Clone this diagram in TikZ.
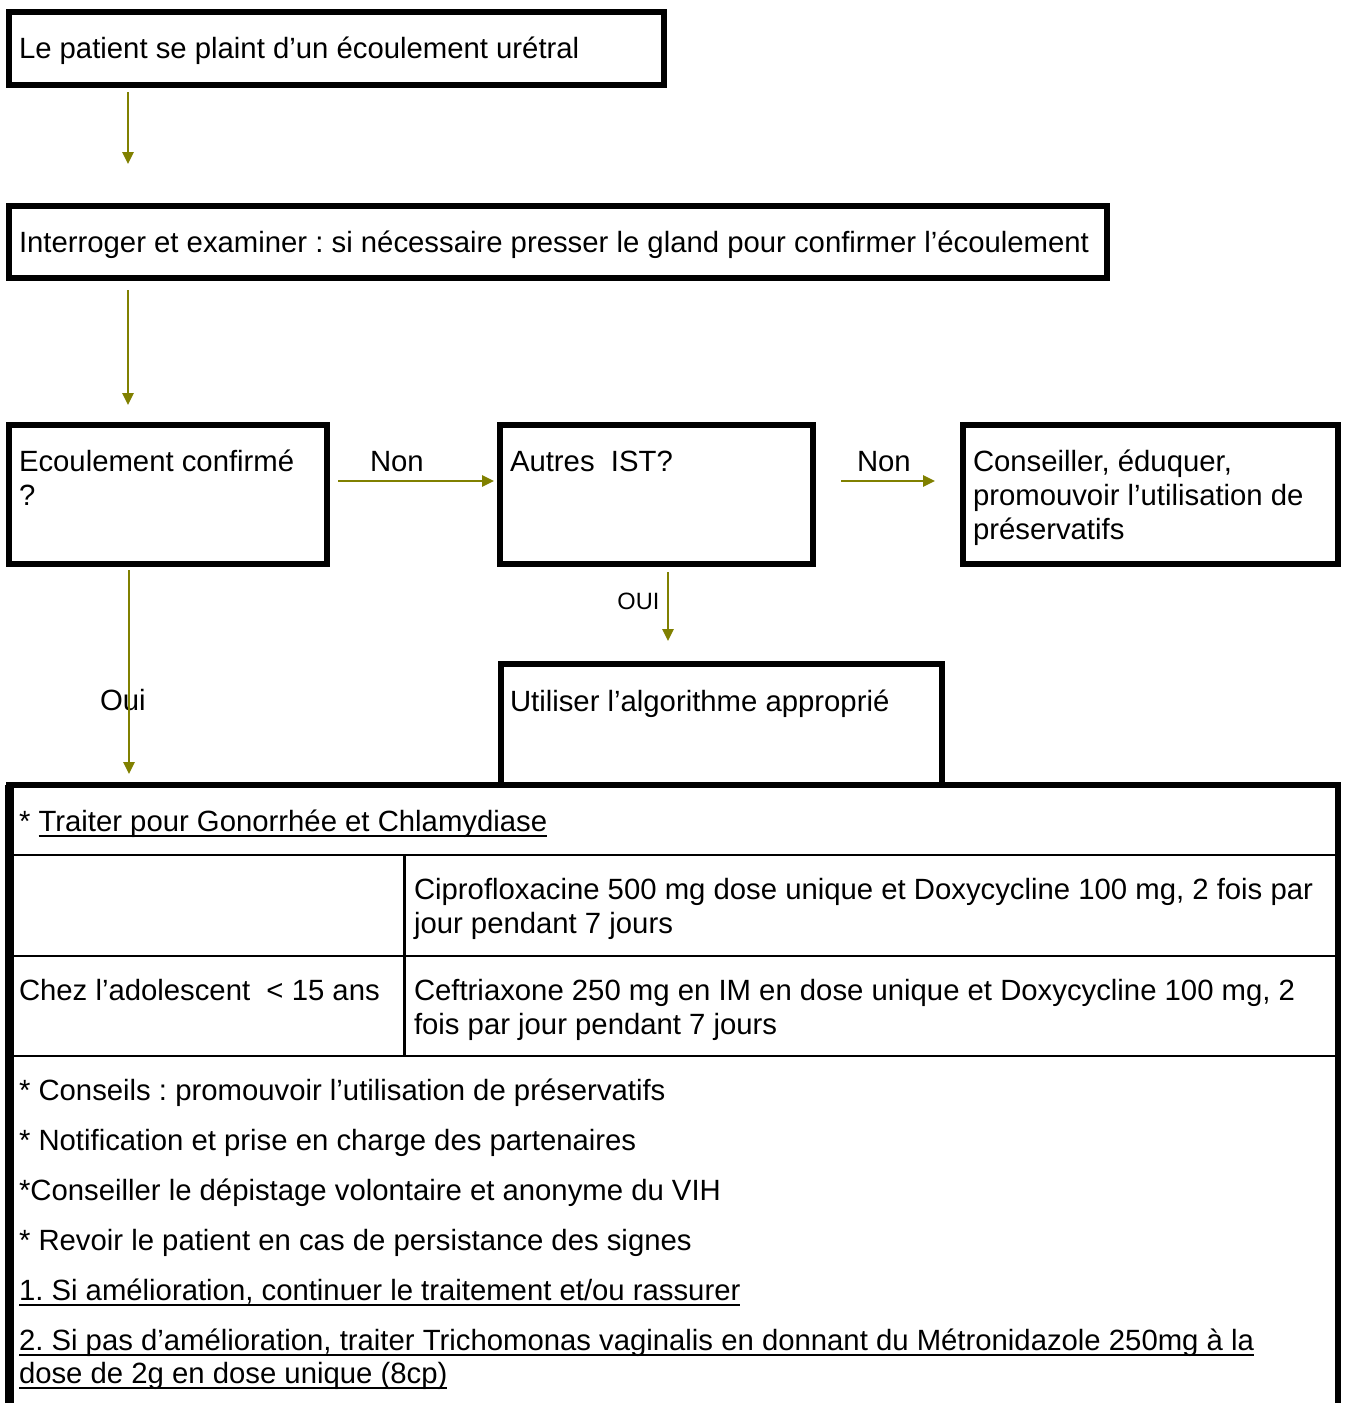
\documentclass[tikz,border=0pt]{standalone}
\usepackage{fontspec}
\setmainfont{Liberation Sans}
\frenchspacing
\newcommand\myul[1]{\setbox0\hbox{#1}\rlap{\rule[-3.2pt]{\wd0}{1pt}}\box0}
\usetikzlibrary{fit,arrows.meta}
\definecolor{olv}{RGB}{128,128,0}
\tikzset{
  box/.style={draw=black, line width=3pt, inner sep=0pt, outer sep=0pt},
  txt/.style={anchor=base west, inner sep=0pt, outer sep=0pt, yshift=-0.5pt, font=\fontsize{14.65}{17}\selectfont, align=left},
  small/.style={anchor=base west, inner sep=0pt, font=\fontsize{11.8}{14}\selectfont},
  arr/.style={draw=olv, line width=1.25pt, -{Triangle[length=6pt,width=5.5pt]}},
  thin/.style={line width=1.25pt},
  thick/.style={line width=3pt}
}
\begin{document}
\begin{tikzpicture}[x=0.5pt,y=-0.5pt]
\useasboundingbox (0,0) rectangle (1346,1403);
% boxes
\node[box, fit={(9,12)(664,85)}] (b1) {};
\node[box, fit={(9,206)(1107,278)}] (b2) {};
\node[box, fit={(9,425)(327,564)}] (b3) {};
\node[box, fit={(500,425)(813,564)}] (b4) {};
\node[box, fit={(963,425)(1338,564)}] (b5) {};
\node[box, fit={(501,664)(942,785)}] (b6) {};
\node[inner sep=0pt, outer sep=0pt, fit={(9,785)(1338,1403)}] (tbl) {};
% texts in boxes (multi-line nodes: base is the last line)
\node[txt] (t1) at (19,57) {Le patient se plaint d’un écoulement urétral};
\node[txt] (t2) at (19,251) {Interroger et examiner : si nécessaire presser le gland pour confirmer l’écoulement};
\node[txt] (t3) at (19,504) {Ecoulement confirmé\\?};
\node[txt] (t4) at (510,470) {Autres\ \ IST?};
\node[txt] (t5) at (973,538) {Conseiller, éduquer,\\promouvoir l’utilisation de\\préservatifs};
\node[txt] (t6) at (510,710) {Utiliser l’algorithme approprié};
% table
\draw[thick] (tbl.south west) -- (tbl.north west) -- (tbl.north east) -- (tbl.south east);
\draw[line width=4.5pt] (tbl.south west) -- (tbl.north west);
\draw[thin] (9,855) -- (1338,855);
\draw[thin] (9,956) -- (1338,956);
\draw[thin] (9,1056) -- (1338,1056);
\draw[thin] (404.5,855) -- (404.5,1056);
\node[txt] (r1) at (19,830) {* \myul{Traiter pour Gonorrhée et Chlamydiase}};
\node[txt] (r2) at (414,932) {Ciprofloxacine 500 mg dose unique et Doxycycline 100 mg, 2 fois par\\jour pendant 7 jours};
\node[txt] (r3a) at (19,999) {Chez l’adolescent\ \ < 15 ans};
\node[txt] (r3b) at (414,1033) {Ceftriaxone 250 mg en IM en dose unique et Doxycycline 100 mg, 2\\fois par jour pendant 7 jours};
\node[txt] (l1) at (19,1099) {* Conseils : promouvoir l’utilisation de préservatifs};
\node[txt] (l2) at (19,1149) {* Notification et prise en charge des partenaires};
\node[txt] (l3) at (19,1199) {*Conseiller le dépistage volontaire et anonyme du VIH};
\node[txt] (l4) at (19,1249) {* Revoir le patient en cas de persistance des signes};
\node[txt] (l5) at (19,1299) {\myul{1. Si amélioration, continuer le traitement et/ou rassurer}};
\node[txt] (l6) at (19,1349) {\myul{2. Si pas d’amélioration, traiter Trichomonas vaginalis en donnant du Métronidazole 250mg à la}};
\node[txt] (l7) at (19,1382) {\myul{dose de 2g en dose unique (8cp)}};
% arrows
\draw[arr, shorten <=3.5pt, shorten >=21pt] ([xshift=59.5pt]b1.south west) -- ([xshift=59.5pt]b2.north west);
\draw[arr, shorten <=6pt, shorten >=10pt] ([xshift=59.5pt]b2.south west) -- ([xshift=59.5pt]b3.north west);
\draw[arr, shorten <=5.5pt, shorten >=3pt] ([yshift=-28pt]b3.north east) -- ([yshift=-28pt]b4.north west);
\draw[arr, shorten <=14pt, shorten >=14pt] ([yshift=-28pt]b4.north east) -- ([yshift=-28pt]b5.north west);
\draw[arr, shorten <=4pt, shorten >=11.5pt] ([xshift=84pt]b4.south west) -- ([xshift=83.5pt]b6.north west);
% labels
\node[txt] (n1) at (370,470) {Non};
\node[txt] (n2) at (857,470) {Non};
\node[small] (o1) at (617,609) {OUI};
\node[txt] (o2) at (100,709) {Oui};
\draw[arr, shorten <=3pt, shorten >=5.5pt] ([xshift=60pt]b3.south west) -- ([xshift=60pt]tbl.north west);
\end{tikzpicture}
\end{document}
